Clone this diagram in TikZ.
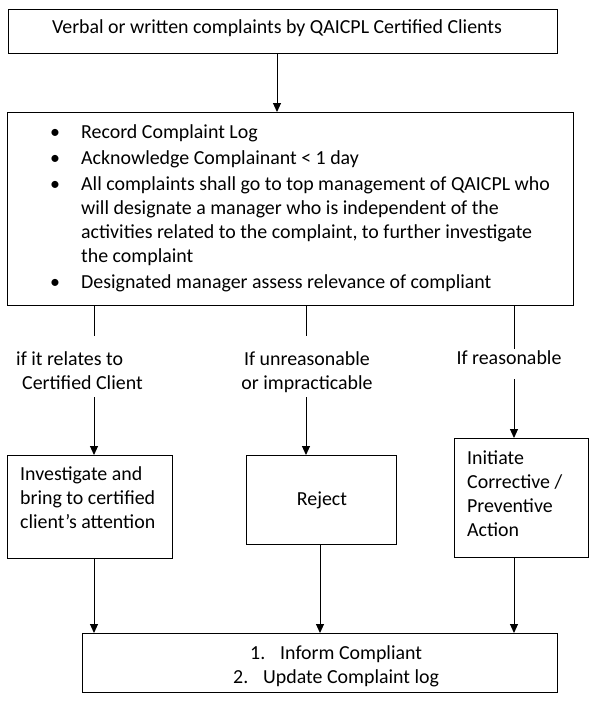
\documentclass[tikz,border=0pt]{standalone}
\usepackage{fontspec}
\setmainfont{Carlito}
\usetikzlibrary{arrows.meta}
\begin{document}
\begin{tikzpicture}[x=1pt,y=-1pt,
  box/.style={draw=black, line width=1pt, inner sep=0pt, anchor=north west},
  txt/.style={inner sep=0pt, font=\fontsize{19.9}{24}\selectfont},
  conn/.style={draw=black, line width=1pt},
  arr/.style={conn, -{Triangle[length=9pt,width=8pt]}}]
\path[use as bounding box] (0,0) rectangle (600,716);

% top
\node[box, minimum width=549pt, minimum height=44pt] (top) at (8,9) {};
\node[txt, anchor=base] (toptext) at (277,33) {Verbal or written complaints by QAICPL Certified Clients};

% main
\node[box, minimum width=566pt, minimum height=193pt] (main) at (7,112) {};
\node[txt, anchor=base west, align=left] (maintext) at (50,288) {%
\makebox[31pt][l]{\textbullet}Record Complaint Log\\[2pt]
\makebox[31pt][l]{\textbullet}Acknowledge Complainant < 1 day\\[2pt]
\makebox[31pt][l]{\textbullet}All complaints shall go to top management of QAICPL who\\
\hspace*{31pt}will designate a manager who is independent of the\\
\hspace*{31pt}activities related to the complaint, to further investigate\\
\hspace*{31pt}the complaint\\[2pt]
\makebox[31pt][l]{\textbullet}Designated manager assess relevance of compliant};

% labels
\node[txt, anchor=base west, align=left] (lab1) at (16,389) {if it relates to\\\hspace*{6pt}Certified Client};
\node[txt, anchor=base, align=center] (lab2) at (307,389) {If unreasonable\\or impracticable};
\node[txt, anchor=base] (lab3) at (509,364) {If reasonable};

% middle boxes
\node[box, minimum width=165pt, minimum height=103pt] (inv) at (7,455) {};
\node[txt, anchor=base west, align=left] (invt) at (20,528) {Investigate and\\bring to certified\\client’s attention};
\node[box, minimum width=150pt, minimum height=89pt] (rej) at (246,455) {};
\node[txt, anchor=base] (rejt) at (322,505) {Reject};
\node[box, minimum width=134pt, minimum height=119pt] (ini) at (454,438) {};
\node[txt, anchor=base west, align=left] (init) at (467,536) {Initiate\\Corrective /\\Preventive\\Action};

% bottom
\node[box, minimum width=475pt, minimum height=59pt] (bot) at (82,633) {};
\node[txt, anchor=base west, align=left] (bott) at (233,683) {\hspace*{17pt}\makebox[30pt][l]{1.}Inform Compliant\\\makebox[30pt][l]{2.}Update Complaint log};

% connectors
\coordinate (b1a) at (94,336); \coordinate (b1b) at (94,397);
\coordinate (b2a) at (306,336); \coordinate (b2b) at (306,397);
\coordinate (b3a) at (514,349); \coordinate (b3b) at (514,379);

\draw[arr] (top.south -| toptext.base) -- (main.north -| toptext.base);
\draw[conn] (main.south -| b1a) -- (b1a);
\draw[arr] (b1b) -- (inv.north -| b1b);
\draw[conn] (main.south -| b2a) -- (b2a);
\draw[arr] (b2b) -- (rej.north -| b2b);
\draw[conn] (main.south -| b3a) -- (b3a);
\draw[arr] (b3b) -- (ini.north -| b3b);
\draw[arr] (inv.south -| b1a) -- (bot.north -| b1a);
\draw[arr] (rej.south -| 320,0) -- (bot.north -| 320,0);
\draw[arr] (ini.south -| b3a) -- (bot.north -| b3a);
\end{tikzpicture}
\end{document}
